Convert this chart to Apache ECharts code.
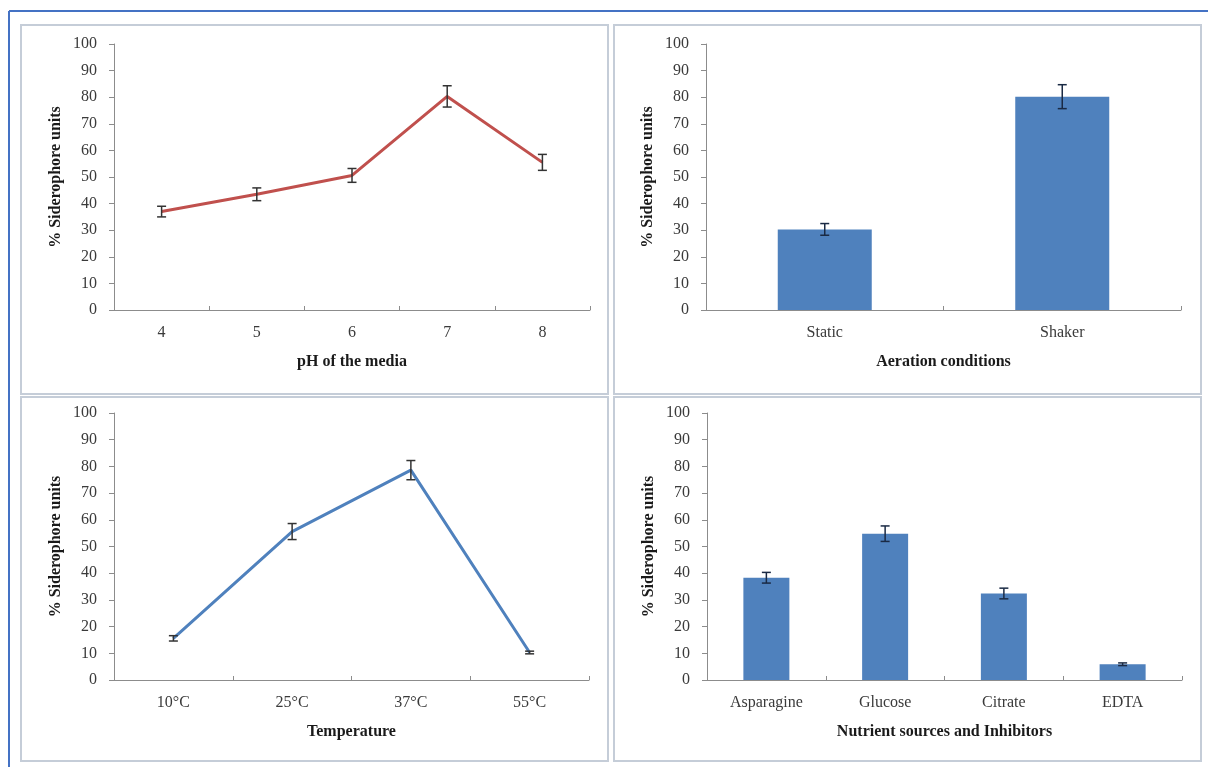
<!DOCTYPE html>
<html>
<head>
<meta charset="utf-8">
<script src="https://cdn.jsdelivr.net/npm/echarts@6/dist/echarts.min.js"></script>
<style>
html,body{margin:0;padding:0;background:#fff;}
#c{width:1208px;height:767px;}
</style>
</head>
<body>
<div id="c"></div>
<script>
// ---- Data ----
const yTicks = [0, 10, 20, 30, 40, 50, 60, 70, 80, 90, 100];
const yAxisTitle = '% Siderophore units';

const phCategories = ['4', '5', '6', '7', '8'];
const phValues = [37, 43.5, 50.6, 80.3, 55.5];
const phErrors = [2, 2.4, 2.6, 4, 3];
const phTitle = 'pH of the media';

const aerationCategories = ['Static', 'Shaker'];
const aerationValues = [30.3, 80.2];
const aerationErrors = [2.2, 4.5];
const aerationTitle = 'Aeration conditions';

const tempCategories = ['10°C', '25°C', '37°C', '55°C'];
const tempValues = [15.6, 55.6, 78.6, 10.3];
const tempErrors = [1, 3, 3.6, 0.5];
const tempTitle = 'Temperature';

const nutrientCategories = ['Asparagine', 'Glucose', 'Citrate', 'EDTA'];
const nutrientValues = [38.3, 54.8, 32.4, 5.9];
const nutrientErrors = [2, 2.9, 2, 0.5];
const nutrientTitle = 'Nutrient sources and Inhibitors';

// ---- Styling ----
const FONT = '"Liberation Serif", "Times New Roman", serif';
const AXIS_COLOR = '#8c8c8c';
const TEXT_COLOR = '#3a3a3a';
const RED = '#C0504D';
const BLUE = '#4F81BD';

const grids = [
  { left: 114, top: 44, width: 476, height: 266 },
  { left: 706, top: 44, width: 475, height: 266 },
  { left: 114, top: 413, width: 475, height: 267 },
  { left: 707, top: 413, width: 475, height: 267 }
];

const cats = [phCategories, aerationCategories, tempCategories, nutrientCategories];
const titles = [phTitle, aerationTitle, tempTitle, nutrientTitle];

function xAxis(i) {
  return {
    type: 'category', gridIndex: i, data: cats[i], boundaryGap: true,
    axisLine: { lineStyle: { color: AXIS_COLOR, width: 1 } },
    axisTick: { show: true, inside: true, length: 4, lineStyle: { color: AXIS_COLOR } },
    axisLabel: { color: TEXT_COLOR, fontFamily: FONT, fontSize: 16, margin: 15 },
    name: titles[i], nameLocation: 'middle', nameGap: 44,
    nameTextStyle: { color: '#1a1a1a', fontFamily: FONT, fontSize: 16, fontWeight: 'bold' }
  };
}
function yAxis(i) {
  return {
    type: 'value', gridIndex: i, min: yTicks[0], max: yTicks[yTicks.length - 1], interval: yTicks[1] - yTicks[0],
    splitLine: { show: false },
    axisLine: { show: true, lineStyle: { color: AXIS_COLOR, width: 1 } },
    axisTick: { show: true, inside: false, length: 5, lineStyle: { color: AXIS_COLOR } },
    axisLabel: { color: TEXT_COLOR, fontFamily: FONT, fontSize: 16, margin: 17 },
    name: yAxisTitle, nameLocation: 'middle', nameGap: 50, nameRotate: 90,
    nameTextStyle: { color: '#1a1a1a', fontFamily: FONT, fontSize: 16, fontWeight: 'bold' }
  };
}

function errData(vals, errs) {
  return vals.map((v, k) => [k, v, errs[k]]);
}
function errSeries(i, vals, errs, color) {
  return {
    type: 'custom', xAxisIndex: i, yAxisIndex: i, z: 10,
    data: errData(vals, errs),
    renderItem: function (params, api) {
      const x = api.value(0), y = api.value(1), e = api.value(2);
      const top = api.coord([x, y + e]);
      const bot = api.coord([x, y - e]);
      const hw = 4.5;
      const st = { stroke: color, lineWidth: 1.5 };
      return {
        type: 'group',
        children: [
          { type: 'line', shape: { x1: top[0], y1: top[1], x2: bot[0], y2: bot[1] }, style: st },
          { type: 'line', shape: { x1: top[0] - hw, y1: top[1], x2: top[0] + hw, y2: top[1] }, style: st },
          { type: 'line', shape: { x1: bot[0] - hw, y1: bot[1], x2: bot[0] + hw, y2: bot[1] }, style: st }
        ]
      };
    }
  };
}

const panelRects = [
  [21, 25, 587, 369],
  [614, 25, 587, 369],
  [21, 397, 587, 364],
  [614, 397, 587, 364]
];

const graphic = [
  { type: 'line', shape: { x1: 9, y1: 11, x2: 1208, y2: 11 }, style: { stroke: '#4472C4', lineWidth: 2 } },
  { type: 'line', shape: { x1: 9, y1: 11, x2: 9, y2: 767 }, style: { stroke: '#4472C4', lineWidth: 2 } }
].concat(panelRects.map(r => ({
  type: 'rect', shape: { x: r[0], y: r[1], width: r[2], height: r[3] },
  style: { fill: 'none', stroke: '#C5CDD8', lineWidth: 2 }, z: -1
})));

const chart = echarts.init(document.getElementById('c'), null, { renderer: 'canvas' });
chart.setOption({
  backgroundColor: '#ffffff',
  animation: false,
  graphic: graphic,
  grid: grids,
  xAxis: [0, 1, 2, 3].map(xAxis),
  yAxis: [0, 1, 2, 3].map(yAxis),
  series: [
    { type: 'line', xAxisIndex: 0, yAxisIndex: 0, data: phValues, showSymbol: false, symbol: 'none',
      lineStyle: { color: RED, width: 3 } },
    errSeries(0, phValues, phErrors, '#333333'),
    { type: 'bar', xAxisIndex: 1, yAxisIndex: 1, data: aerationValues, barWidth: 94,
      itemStyle: { color: BLUE } },
    errSeries(1, aerationValues, aerationErrors, '#1a2a44'),
    { type: 'line', xAxisIndex: 2, yAxisIndex: 2, data: tempValues, showSymbol: false, symbol: 'none',
      lineStyle: { color: BLUE, width: 3 } },
    errSeries(2, tempValues, tempErrors, '#333333'),
    { type: 'bar', xAxisIndex: 3, yAxisIndex: 3, data: nutrientValues, barWidth: 46,
      itemStyle: { color: BLUE } },
    errSeries(3, nutrientValues, nutrientErrors, '#1a2a44')
  ]
});
</script>
</body>
</html>
